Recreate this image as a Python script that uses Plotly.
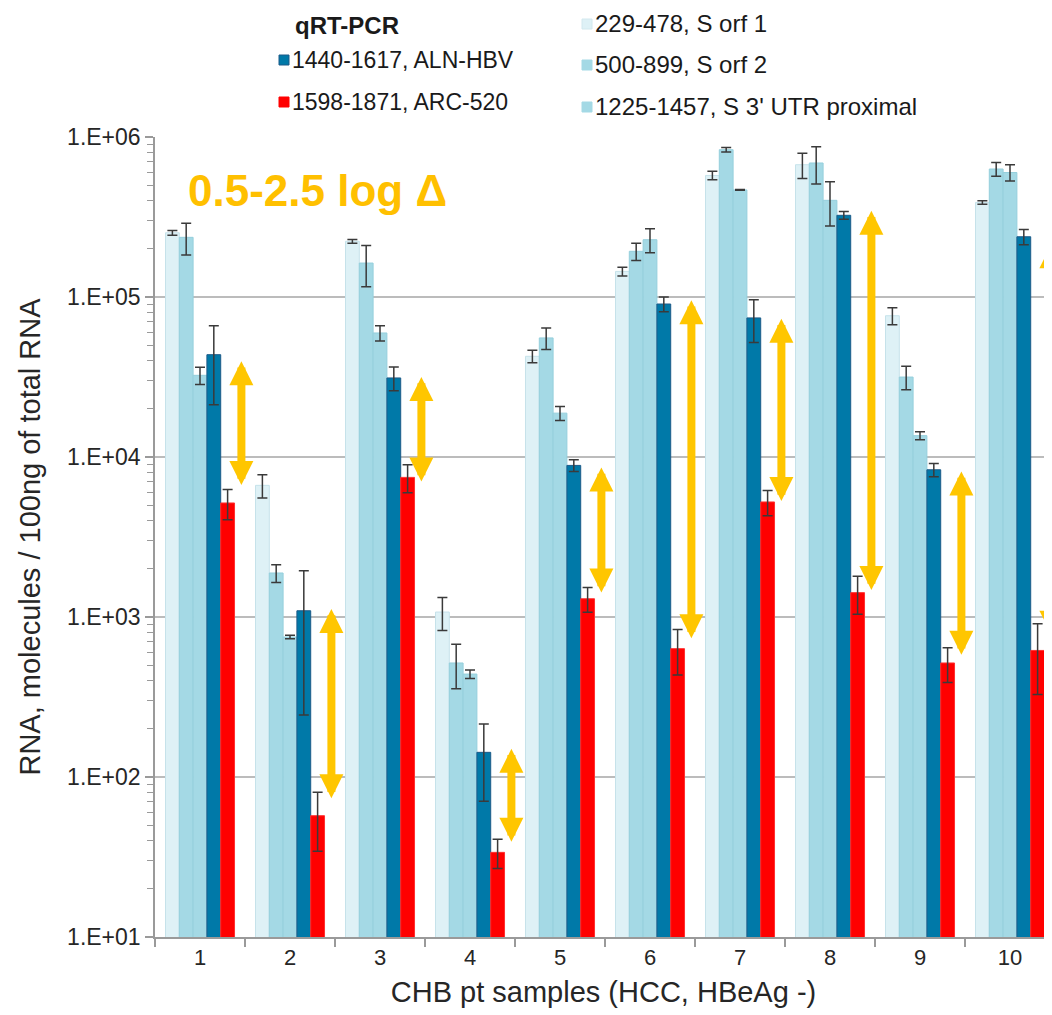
import math
import plotly.graph_objects as go

# ---------------- data ----------------
samples = ["1", "2", "3", "4", "5", "6", "7", "8", "9", "10"]

s_orf1 = [2.52e5, 6650, 2.23e5, 1074, 4.26e4, 1.445e5, 5.75e5, 6.71e5, 7.64e4, 3.9e5]
s_orf1_err = [8.5e3, 1100, 6e3, 250, 3.8e3, 9e3, 3.5e4, 1.2e5, 9.4e3, 1e4]

s_orf2 = [2.36e5, 1884, 1.63e5, 516, 5.55e4, 1.93e5, 8.33e5, 6.88e5, 3.16e4, 6.31e5]
s_orf2_err = [5.3e4, 240, 4.7e4, 160, 8.6e3, 2.4e4, 2.7e4, 1.8e5, 5.3e3, 6.3e4]

s_utr = [3.24e4, 750, 5.96e4, 440, 1.88e4, 2.28e5, 4.67e5, 4.02e5, 1.36e4, 6.0e5]
s_utr_err = [4e3, 20, 6.5e3, 27, 1.9e3, 3.9e4, 3e3, 1.24e5, 800, 7e4]

aln_hbv = [4.36e4, 1094, 3.12e4, 142.6, 8860, 9.04e4, 7.4e4, 3.24e5, 8320, 2.38e5]
aln_hbv_err = [2.24e4, 850, 5.3e3, 72, 750, 9.6e3, 2.2e4, 1.8e4, 800, 2.6e4]

arc_520 = [5160, 57.3, 7457, 33.8, 1300, 634, 5236, 1420, 516, 618]
arc_520_err = [1100, 23, 1480, 7, 230, 200, 940, 380, 127, 290]

# double arrows (upper and lower tip values)
arrow_hi = [3.96e4, 1122, 3.16e4, 150, 8610, 9.53e4, 7.31e4, 3.46e5, 8130, 2.14e5]
arrow_lo = [6550, 72, 6880, 38.6, 1393, 721, 5200, 1445, 568, 759]

y_tickvals = [1e1, 1e2, 1e3, 1e4, 1e5, 1e6]
y_ticktext = ["1.E+01", "1.E+02", "1.E+03", "1.E+04", "1.E+05", "1.E+06"]

series_names = [
    "229-478, S orf 1",
    "500-899, S orf 2",
    "1225-1457, S 3' UTR proximal",
    "1440-1617, ALN-HBV",
    "1598-1871, ARC-520",
]

# ---------------- styling ----------------
FONT = "Liberation Sans, Arial, sans-serif"
C_LIGHT = "#def1f6"
C_MID = "#a4d9e5"
C_DARK = "#0079a8"
C_RED = "#ff0000"
C_ARROW = "#ffc600"

OFF = 8  # page body margin
W, H = 1052 - OFF, 1015 - OFF
ML, MT = 155 - OFF, 137 - OFF
MB = H - (937 - OFF)
MR = 0
PW = W - ML - MR
PH = H - MT - MB
CAT_PX = 90.0

series = [
    (s_orf1, s_orf1_err, C_LIGHT, "#c6e2ea"),
    (s_orf2, s_orf2_err, C_MID, "#95cfdc"),
    (s_utr, s_utr_err, C_MID, "#95cfdc"),
    (aln_hbv, aln_hbv_err, C_DARK, "#1c5a88"),
    (arc_520, arc_520_err, C_RED, "#ff3030"),
]

fig = go.Figure()
for name, (vals, errs, col, lcol) in zip(series_names, series):
    fig.add_trace(go.Bar(
        x=samples, y=vals, name=name,
        marker=dict(color=col, line=dict(color=lcol, width=1)),
        error_y=dict(type="data", array=errs, visible=True,
                     color="#3a3a3a", thickness=1.5, width=5),
        showlegend=False,
    ))

# arrows
annotations = []
for i, (hi, lo) in enumerate(zip(arrow_hi, arrow_lo)):
    xa = i + 0.46
    annotations.append(dict(
        x=xa, y=math.log10(hi), ax=xa, ay=math.log10(lo),
        xref="x", yref="y", axref="x", ayref="y",
        text="", showarrow=True, arrowside="end+start",
        arrowhead=2, startarrowhead=2,
        arrowsize=0.6, startarrowsize=0.6,
        arrowwidth=8, arrowcolor=C_ARROW,
    ))


def px2paper(px, py):
    """screen pixel -> paper coordinates"""
    return ((px - OFF) - ML) / PW, ((H - MB) - (py - OFF)) / PH


# big delta text
tx, ty = px2paper(186, 190)
annotations.append(dict(
    x=tx, y=ty, xref="paper", yref="paper", xanchor="left", yanchor="middle",
    text="<b>0.5-2.5 log Δ</b>", showarrow=False,
    font=dict(family=FONT, size=44, color="#ffc000"),
))

# custom legend
shapes = []
hx, hy = px2paper(294, 25)
annotations.append(dict(x=hx, y=hy, xref="paper", yref="paper",
                        xanchor="left", yanchor="middle", showarrow=False,
                        borderpad=0, text="<b>qRT-PCR</b>",
                        font=dict(family=FONT, size=24, color="#1a1a1a")))
legend_items = [
    (279, 60, C_DARK, "#1c5a88", series_names[3], 23),
    (279, 102, C_RED, C_RED, series_names[4], 23),
    (582, 24, C_LIGHT, "#d2e8ee", series_names[0], 24),
    (582, 65, C_MID, C_MID, series_names[1], 24),
    (582, 107, C_MID, C_MID, series_names[2], 24),
]
for sx, sy, col, lcol, label, fs in legend_items:
    x0, y0 = px2paper(sx, sy + 5)
    x1, y1 = px2paper(sx + 10, sy - 5)
    shapes.append(dict(type="rect", xref="paper", yref="paper",
                       x0=x0, y0=y0, x1=x1, y1=y1,
                       fillcolor=col, line=dict(color=lcol, width=1)))
    lx, ly = px2paper(sx + 12, sy)
    annotations.append(dict(x=lx, y=ly, xref="paper", yref="paper",
                            xanchor="left", yanchor="middle", showarrow=False,
                            borderpad=0, text=label,
                            font=dict(family=FONT, size=fs, color="#1a1a1a")))

fig.update_layout(
    width=W, height=H,
    margin=dict(l=ML, r=MR, t=MT, b=MB, pad=0),
    paper_bgcolor="white", plot_bgcolor="white",
    barmode="group", bargap=0.233, bargroupgap=0,
    font=dict(family=FONT, size=22, color="#262626"),
    annotations=annotations, shapes=shapes,
    showlegend=False,
)

fig.update_xaxes(
    type="category", range=[-0.5, -0.5 + PW / CAT_PX],
    tickson="boundaries", ticks="outside", ticklen=8, tickwidth=1.5,
    tickcolor="#9a9a9a", showline=True, linecolor="#9a9a9a", linewidth=1.5,
    showgrid=False, tickfont=dict(family=FONT, size=22, color="#262626"),
    title=dict(text="CHB pt samples (HCC, HBeAg -)",
               font=dict(family=FONT, size=29, color="#262626"), standoff=13),
)
fig.update_yaxes(
    type="log", range=[1, 6],
    tickvals=y_tickvals, ticktext=y_ticktext,
    ticks="outside", ticklen=8, tickwidth=1.5, tickcolor="#9a9a9a",
    showline=True, linecolor="#9a9a9a", linewidth=1.5,
    showgrid=True, gridcolor="#bcbcbc", gridwidth=2,
    tickfont=dict(family=FONT, size=23, color="#262626"),
    minor=dict(dtick="D1", ticks="outside", ticklen=6, tickwidth=1.2,
               tickcolor="#9a9a9a", showgrid=False),
    title=dict(text="RNA, molecules / 100ng of total RNA",
               font=dict(family=FONT, size=29, color="#262626"), standoff=18),
)

fig.write_html("out.html")
